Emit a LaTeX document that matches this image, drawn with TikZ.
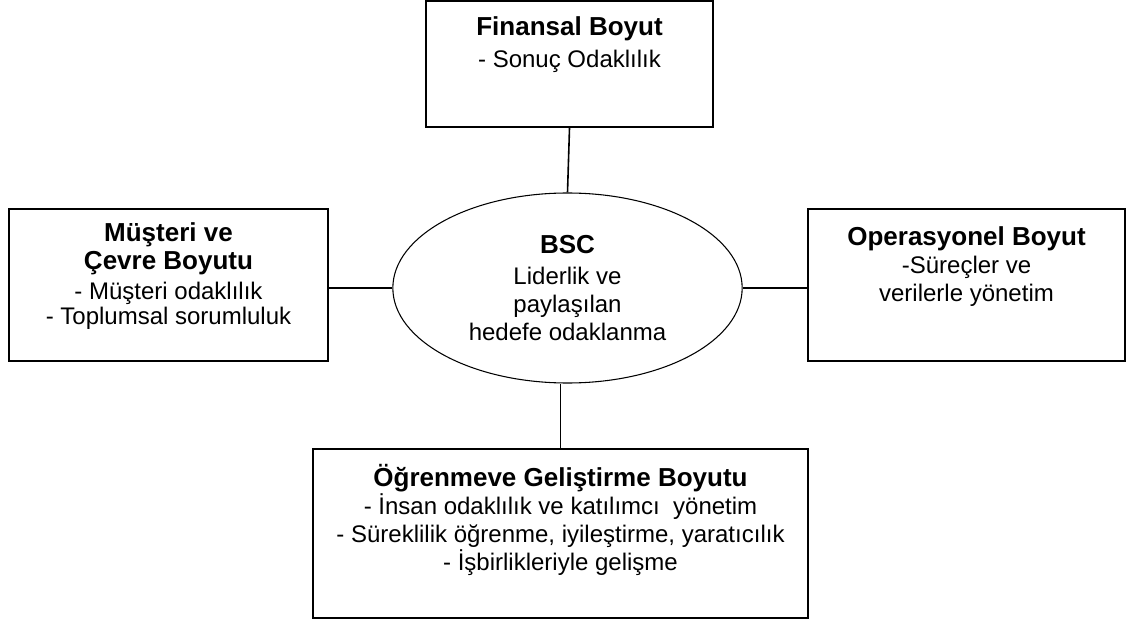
\documentclass[tikz,border=0pt]{standalone}
\usepackage{fontspec}
\setmainfont{Liberation Sans}
\usetikzlibrary{positioning,shapes.geometric}
\newcommand{\bhead}[1]{{\fontsize{19.5}{21}\selectfont\bfseries #1}}

\begin{document}
\begin{tikzpicture}[x=0.75pt, y=-0.75pt, every node/.style={font=\fontsize{18}{21}\selectfont}, box/.style={draw, line width=1.4pt, inner sep=0pt}, txt/.style={align=center, inner sep=0pt}, link/.style={line width=1.2pt}]
\useasboundingbox (0,0) rectangle (1126,623);
% boxes
\node[box, minimum width=215pt, minimum height=94.5pt] (fin) at (569.5,64) {};
\node[box, minimum width=239pt, minimum height=114pt] (mus) at (168.5,285) {};
\node[box, minimum width=238pt, minimum height=114pt] (ops) at (966.5,285) {};
\node[box, minimum width=371pt, minimum height=127pt] (ogr) at (560.5,533.5) {};
\node[draw, ellipse, line width=0.8pt, inner sep=0pt, minimum width=262pt, minimum height=142.5pt, align=center] (bsc) at (567.5,288) {\bhead{BSC}\\[2pt]Liderlik ve\\paylaşılan\\hedefe odaklanma};
% texts
\node[txt, below=12pt of fin.north] (fintx) {\bhead{Finansal Boyut}\\[3pt]- Sonuç Odaklılık};
\node[txt, below=11pt of mus.north] (mustx) {\bhead{Müşteri ve}\\\bhead{Çevre Boyutu}\\[1pt]- Müşteri odaklılık\\[-2pt]- Toplumsal sorumluluk};
\node[txt, below=13.5pt of ops.north] (opstx) {\bhead{Operasyonel Boyut}\\-Süreçler ve\\verilerle yönetim};
\node[txt, below=12pt of ogr.north] (ogrtx) {\bhead{Öğrenmeve Geliştirme Boyutu}\\- İnsan odaklılık ve katılımcı\ \ yönetim\\- Süreklilik öğrenme, iyileştirme, yaratıcılık\\- İşbirlikleriyle gelişme};
% links
\draw[link] (fin.south) -- (bsc.north);
\draw[link] (bsc.west) -- (bsc.west -| mus.east);
\draw[link] (bsc.east) -- (bsc.east -| ops.west);
\draw[link] (ogr.north) -- (ogr.north |- bsc.south);
\end{tikzpicture}
\end{document}
